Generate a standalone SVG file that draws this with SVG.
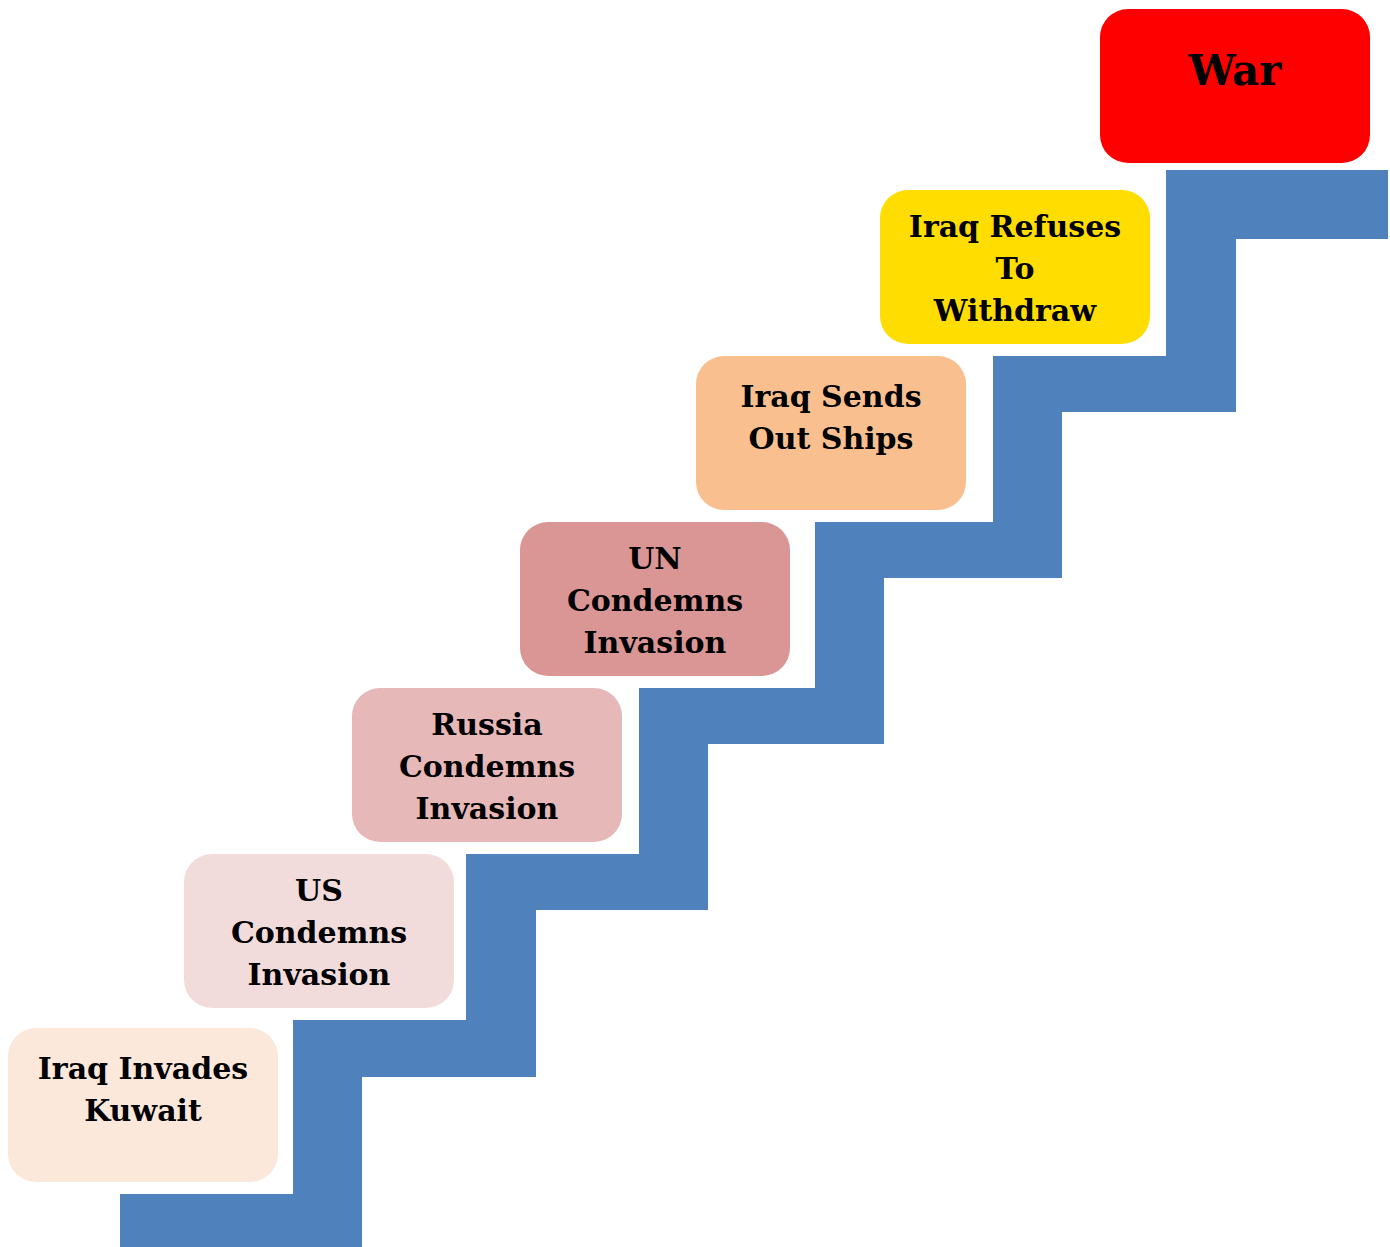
<svg xmlns="http://www.w3.org/2000/svg" width="1390" height="1247" viewBox="0 0 1390 1247">
<style>
.box{stroke:none}
.t{font-family:"DejaVu Serif","Liberation Serif",serif;font-weight:bold;font-size:30px;text-anchor:middle;fill:#000}
.big{font-size:42px}
</style>
<rect width="1390" height="1247" fill="#fff"/>
<g id="connectors">
<polygon id="stairs" fill="#4F81BD" points="120,1247 120,1194 293,1194 293,1020 466,1020 466,854 639,854 639,688 815,688 815,522 993,522 993,356 1166,356 1166,170 1388,170 1388,239 1236,239 1236,412 1062,412 1062,578 884,578 884,744 708,744 708,910 536,910 536,1077 362,1077 362,1247"/>
</g>
<g id="n1">
<rect class="box" x="8" y="1028" width="270" height="154" rx="28" fill="#FCE8DA"/>
<text class="t" x="143" y="1079">Iraq Invades</text>
<text class="t" x="143" y="1121">Kuwait</text>
</g>
<g id="n2">
<rect class="box" x="184" y="854" width="270" height="154" rx="28" fill="#F2DCDB"/>
<text class="t" x="319" y="901">US</text>
<text class="t" x="319" y="943">Condemns</text>
<text class="t" x="319" y="985">Invasion</text>
</g>
<g id="n3">
<rect class="box" x="352" y="688" width="270" height="154" rx="28" fill="#E6B8B7"/>
<text class="t" x="487" y="735">Russia</text>
<text class="t" x="487" y="777">Condemns</text>
<text class="t" x="487" y="819">Invasion</text>
</g>
<g id="n4">
<rect class="box" x="520" y="522" width="270" height="154" rx="28" fill="#DA9694"/>
<text class="t" x="655" y="569">UN</text>
<text class="t" x="655" y="611">Condemns</text>
<text class="t" x="655" y="653">Invasion</text>
</g>
<g id="n5">
<rect class="box" x="696" y="356" width="270" height="154" rx="28" fill="#F9BF8F"/>
<text class="t" x="831" y="407">Iraq Sends</text>
<text class="t" x="831" y="449">Out Ships</text>
</g>
<g id="n6">
<rect class="box" x="880" y="190" width="270" height="154" rx="28" fill="#FFDD00"/>
<text class="t" x="1015" y="237">Iraq Refuses</text>
<text class="t" x="1015" y="279">To</text>
<text class="t" x="1015" y="321">Withdraw</text>
</g>
<g id="n7">
<rect class="box" x="1100" y="9" width="270" height="154" rx="28" fill="#FF0000"/>
<text class="t big" x="1235" y="85">War</text>
</g>
</svg>
